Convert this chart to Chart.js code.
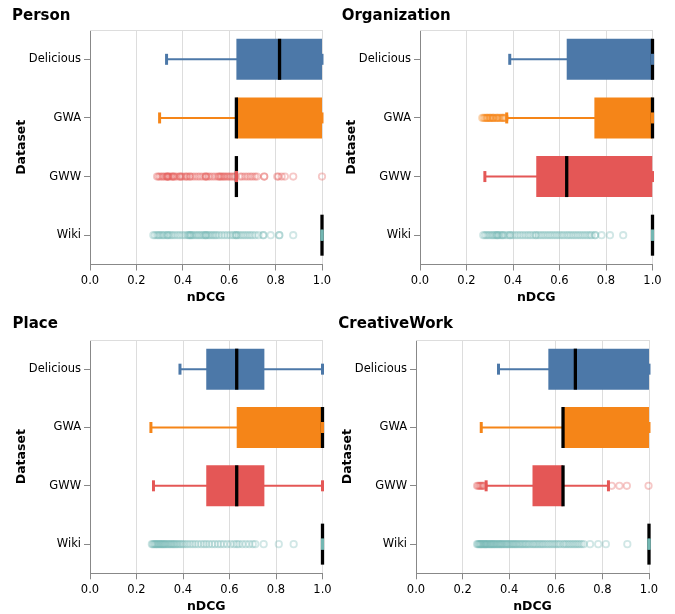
<!DOCTYPE html>
<html>
<head>
<meta charset="utf-8">
<script src="https://cdn.jsdelivr.net/npm/chart.js@4.4.1/dist/chart.umd.min.js"></script>
<style>
  html, body { margin: 0; padding: 0; background: #fff; }
  #wrap { position: relative; width: 675px; height: 614px; overflow: hidden; }
  canvas { position: absolute; }
</style>
</head>
<body>
<div id="wrap">
  <canvas id="c0" width="360" height="307" style="left:0;top:0"></canvas>
  <canvas id="c1" width="360" height="307" style="left:330px;top:0"></canvas>
  <canvas id="c2" width="360" height="307" style="left:0;top:307px"></canvas>
  <canvas id="c3" width="360" height="307" style="left:330px;top:307px"></canvas>
</div>
<script>
// Datasets on the category axis, and nDCG tick values
const categories = ['Delicious', 'GWA', 'GWW', 'Wiki'];
const xTicks = [0, 0.2, 0.4, 0.6, 0.8, 1.0];

// Person: box-plot summaries per dataset
const personLow    = [0.330, 0.300, 0.631, 1.0];
const personQ1     = [0.631, 0.631, 0.631, 1.0];
const personMedian = [0.817, 0.631, 0.631, 1.0];
const personQ3     = [1.0,   1.0,   0.631, 1.0];
const personHigh   = [1.0,   1.0,   0.631, 1.0];
const personOutGWW = [0.289, 0.295, 0.301, 0.309, 0.315, 0.322, 0.330, 0.333, 0.333, 0.337, 0.340, 0.348, 0.356,
  0.356, 0.361, 0.366, 0.375, 0.387, 0.387, 0.393, 0.398, 0.409, 0.415, 0.420, 0.431, 0.431, 0.442, 0.453, 0.464,
  0.474, 0.485, 0.496, 0.500, 0.500, 0.509, 0.517, 0.528, 0.539, 0.550, 0.556, 0.560, 0.565, 0.571, 0.577, 0.582,
  0.590, 0.596, 0.603, 0.610, 0.618, 0.625, 0.647, 0.656, 0.668, 0.679, 0.690, 0.700, 0.711, 0.720, 0.751, 0.751,
  0.807, 0.812, 0.826, 0.840, 0.876, 1.0];
const personOutWiki = [0.273, 0.280, 0.289, 0.295, 0.301, 0.309, 0.315, 0.322, 0.333, 0.333, 0.340, 0.348, 0.356,
  0.366, 0.377, 0.387, 0.398, 0.409, 0.420, 0.425, 0.431, 0.431, 0.437, 0.442, 0.450, 0.458, 0.465, 0.472, 0.480,
  0.488, 0.495, 0.500, 0.500, 0.508, 0.515, 0.523, 0.531, 0.539, 0.546, 0.556, 0.568, 0.580, 0.592, 0.604, 0.615,
  0.624, 0.631, 0.631, 0.640, 0.650, 0.660, 0.670, 0.680, 0.690, 0.700, 0.712, 0.726, 0.747, 0.747, 0.779, 0.816,
  0.816, 0.876];

// Organization
const orgLow    = [0.386, 0.373, 0.279, 1.0];
const orgQ1     = [0.631, 0.750, 0.500, 1.0];
const orgMedian = [1.0,   1.0,   0.631, 1.0];
const orgQ3     = [1.0,   1.0,   1.0,   1.0];
const orgHigh   = [1.0,   1.0,   1.0,   1.0];
const orgOutGWA = [0.268, 0.274, 0.279, 0.284, 0.289, 0.289, 0.295, 0.301, 0.301, 0.306, 0.312, 0.315, 0.315,
  0.322, 0.328, 0.333, 0.333, 0.340, 0.345, 0.350, 0.356, 0.356, 0.361, 0.366];
const orgOutWiki = [0.272, 0.279, 0.286, 0.293, 0.301, 0.309, 0.315, 0.322, 0.328, 0.333, 0.333, 0.340, 0.348,
  0.356, 0.356, 0.366, 0.377, 0.387, 0.387, 0.398, 0.409, 0.420, 0.431, 0.442, 0.453, 0.464, 0.474, 0.485, 0.496,
  0.500, 0.510, 0.520, 0.530, 0.540, 0.550, 0.560, 0.570, 0.580, 0.590, 0.600, 0.610, 0.620, 0.631, 0.640, 0.650,
  0.660, 0.670, 0.680, 0.690, 0.700, 0.710, 0.720, 0.730, 0.738, 0.753, 0.753, 0.781, 0.817, 0.874];

// Place
const placeLow    = [0.387, 0.262, 0.273, 1.0];
const placeQ1     = [0.500, 0.631, 0.500, 1.0];
const placeMedian = [0.631, 1.0,   0.631, 1.0];
const placeQ3     = [0.750, 1.0,   0.750, 1.0];
const placeHigh   = [1.0,   1.0,   1.0,   1.0];
const placeOutWiki = [0.266, 0.270, 0.275, 0.279, 0.283, 0.287, 0.291, 0.295, 0.299, 0.303, 0.307, 0.311, 0.315,
  0.319, 0.323, 0.328, 0.333, 0.338, 0.343, 0.348, 0.353, 0.358, 0.363, 0.368, 0.374, 0.380, 0.387, 0.394, 0.401,
  0.410, 0.420, 0.431, 0.442, 0.453, 0.465, 0.478, 0.490, 0.500, 0.512, 0.525, 0.537, 0.550, 0.562, 0.575, 0.590,
  0.605, 0.620, 0.631, 0.640, 0.655, 0.670, 0.685, 0.700, 0.711, 0.747, 0.812, 0.876];

// CreativeWork
const cwLow    = [0.354, 0.280, 0.301, 1.0];
const cwQ1     = [0.568, 0.631, 0.500, 1.0];
const cwMedian = [0.684, 0.631, 0.631, 1.0];
const cwQ3     = [1.0,   1.0,   0.631, 1.0];
const cwHigh   = [1.0,   1.0,   0.826, 1.0];
const cwOutGWW = [0.262, 0.267, 0.272, 0.276, 0.280, 0.284, 0.288, 0.292, 0.840, 0.873, 0.905, 0.998];
const cwOutWiki = [0.262, 0.266, 0.270, 0.273, 0.276, 0.279, 0.282, 0.285, 0.289, 0.292, 0.295, 0.298, 0.301,
  0.304, 0.307, 0.311, 0.315, 0.318, 0.322, 0.325, 0.329, 0.333, 0.336, 0.340, 0.344, 0.348, 0.352, 0.356, 0.360,
  0.364, 0.368, 0.372, 0.377, 0.382, 0.387, 0.391, 0.396, 0.401, 0.406, 0.411, 0.416, 0.421, 0.426, 0.431, 0.436,
  0.442, 0.448, 0.454, 0.460, 0.466, 0.472, 0.478, 0.485, 0.492, 0.500, 0.506, 0.513, 0.520, 0.527, 0.534, 0.541,
  0.548, 0.556, 0.564, 0.572, 0.580, 0.588, 0.596, 0.604, 0.612, 0.620, 0.631, 0.638, 0.646, 0.654, 0.662, 0.670,
  0.678, 0.686, 0.694, 0.702, 0.711, 0.720, 0.747, 0.782, 0.815, 0.907];

const colors = ['#4c78a8', '#f58518', '#e45756', '#72b7b2'];
const outlierColors = ['rgba(76,120,168,0.33)', 'rgba(245,133,24,0.33)', 'rgba(228,87,86,0.33)', 'rgba(114,183,178,0.33)'];

// Panel placement inside each canvas (chart area edges, title anchor)
const panels = [
  { id: 'c0', title: 'Person', low: personLow, q1: personQ1, median: personMedian, q3: personQ3, high: personHigh,
    outliers: { GWW: personOutGWW, Wiki: personOutWiki },
    w: 360, h: 307, area: { left: 90, top: 30, right: 322, bottom: 264.5 }, titleX: 12, titleMid: 16 },
  { id: 'c1', title: 'Organization', low: orgLow, q1: orgQ1, median: orgMedian, q3: orgQ3, high: orgHigh,
    outliers: { GWA: orgOutGWA, Wiki: orgOutWiki },
    w: 360, h: 307, area: { left: 90, top: 30, right: 322.5, bottom: 264.5 }, titleX: 11.7, titleMid: 16 },
  { id: 'c2', title: 'Place', low: placeLow, q1: placeQ1, median: placeMedian, q3: placeQ3, high: placeHigh,
    outliers: { Wiki: placeOutWiki },
    w: 360, h: 307, area: { left: 90, top: 33, right: 322.5, bottom: 266.3 }, titleX: 12.5, titleMid: 17 },
  { id: 'c3', title: 'CreativeWork', low: cwLow, q1: cwQ1, median: cwMedian, q3: cwQ3, high: cwHigh,
    outliers: { GWW: cwOutGWW, Wiki: cwOutWiki },
    w: 360, h: 307, area: { left: 86, top: 33, right: 319, bottom: 266.3 }, titleX: 8.3, titleMid: 17 }
];

Chart.defaults.font.family = "'DejaVu Sans', sans-serif";
Chart.defaults.color = '#000';

// light frame line along the top of the plot area
const topFrame = {
  id: 'topFrame',
  beforeDatasetsDraw(chart) {
    const { ctx, chartArea: a } = chart;
    ctx.save();
    ctx.strokeStyle = '#ddd';
    ctx.lineWidth = 1;
    ctx.beginPath();
    ctx.moveTo(a.left, Math.round(a.top) + 0.5);
    ctx.lineTo(a.right, Math.round(a.top) + 0.5);
    ctx.stroke();
    ctx.restore();
  }
};

function buildDatasets(p) {
  const capPoints = [], capColors = [];
  categories.forEach((c, i) => {
    capPoints.push({ x: p.low[i], y: c }, { x: p.high[i], y: c });
    capColors.push(colors[i], colors[i]);
  });
  const outPoints = [], outColors = [];
  categories.forEach((c, i) => {
    (p.outliers[c] || []).forEach(v => { outPoints.push({ x: v, y: c }); outColors.push(outlierColors[i]); });
  });
  return [
    { type: 'scatter', label: 'caps', data: capPoints, pointStyle: 'line', rotation: 90,
      pointRadius: 5.5, borderWidth: 3, borderColor: capColors, order: 0, clip: false },
    { type: 'scatter', label: 'median', data: categories.map((c, i) => ({ x: p.median[i], y: c })),
      pointStyle: 'line', rotation: 90, pointRadius: 20.5, borderWidth: 3.3, borderColor: '#000', order: 1, clip: false },
    { type: 'bar', label: 'box', data: categories.map((c, i) => [p.q1[i], p.q3[i]]), backgroundColor: colors,
      barThickness: 41, grouped: false, inflateAmount: 0, order: 2 },
    { type: 'bar', label: 'whisker', data: categories.map((c, i) => [p.low[i], p.high[i]]), backgroundColor: colors,
      barThickness: 2, grouped: false, inflateAmount: 0, order: 3 },
    { type: 'scatter', label: 'outliers', data: outPoints, pointStyle: 'circle', pointRadius: 3.2,
      borderWidth: 1.8, borderColor: outColors, backgroundColor: 'rgba(0,0,0,0)', order: 4, clip: false }
  ];
}

panels.forEach(p => {
  const a = p.area;
  const titleFont = 15, titleLine = 18, titlePadTop = 2;
  const padTop = p.titleMid - titlePadTop - titleLine / 2;
  const titlePadBottom = a.top - padTop - titlePadTop - titleLine;
  const xHeight = p.h - a.bottom;
  const axisTitleLine = 15;
  const xTitlePadBottom = p.h - a.bottom - 33 - axisTitleLine / 2;

  new Chart(document.getElementById(p.id), {
    type: 'bar',
    data: { labels: categories, datasets: buildDatasets(p) },
    options: {
      responsive: false,
      animation: false,
      indexAxis: 'y',
      layout: { padding: { left: p.titleX, top: padTop, right: p.w - a.right, bottom: 0 } },
      plugins: {
        legend: { display: false },
        tooltip: { enabled: false },
        title: {
          display: true, text: p.title, align: 'start', color: '#000',
          font: { size: titleFont, weight: 'bold' },
          padding: { top: titlePadTop, bottom: titlePadBottom }
        }
      },
      scales: {
        x: {
          type: 'linear', min: 0, max: 1,
          afterBuildTicks(scale) { scale.ticks = xTicks.map(v => ({ value: v })); },
          afterFit(scale) { scale.height = xHeight; },
          ticks: { callback: v => Number(v).toFixed(1), font: { size: 11.5 }, color: '#000', padding: 3.5, maxRotation: 0 },
          grid: { color: '#ddd', tickColor: '#888', tickLength: 6, lineWidth: 1 },
          border: { color: '#888', width: 1 },
          title: { display: true, text: 'nDCG', font: { size: 12.5, weight: 'bold' }, color: '#000',
                   padding: { top: 0, bottom: xTitlePadBottom } }
        },
        y: {
          type: 'category', offset: true,
          afterFit(scale) { scale.width = a.left - p.titleX; },
          ticks: { font: { size: 11.5 }, color: '#000', padding: 3 },
          grid: { drawOnChartArea: false, drawTicks: true, tickLength: 6, tickColor: '#888', offset: false },
          border: { color: '#888', width: 1 },
          title: { display: true, text: 'Dataset', font: { size: 12.5, weight: 'bold' }, color: '#000',
                   padding: { top: 2.2, bottom: 0 } }
        }
      }
    },
    plugins: [topFrame]
  });
});
</script>
</body>
</html>
